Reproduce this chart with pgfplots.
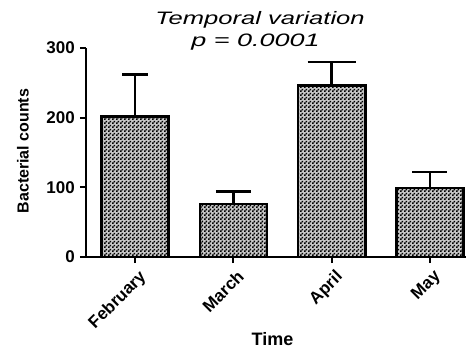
\documentclass[border=0pt]{standalone}
\usepackage{pgfplots}
\pgfplotsset{compat=1.18}
\usepackage{fontspec}
\setmainfont{Liberation Sans}
\usetikzlibrary{patterns}
\pgfdeclarepatternformonly{finechecker}{\pgfpointorigin}{\pgfqpoint{4pt}{4pt}}{\pgfqpoint{4pt}{4pt}}{%
  \pgfpathrectangle{\pgfpointorigin}{\pgfqpoint{2pt}{2pt}}%
  \pgfpathrectangle{\pgfqpoint{2pt}{2pt}}{\pgfqpoint{2pt}{2pt}}%
  \pgfusepath{fill}}
\pgfplotsset{
  mybar/.style={bar shift=0pt, draw=black, line width=2.5pt, fill=black!22,
    postaction={pattern=finechecker, pattern color=black},
    error bars/.cd, y dir=plus, y explicit,
    error bar style={line width=2.5pt, black}},
}
\begin{document}
\begin{tikzpicture}
\path[use as bounding box] (-86pt,-94pt) rectangle (382pt,257pt);
\begin{axis}[
  scale only axis,
  width=380pt, height=209pt,
  xmin=-0.5, xmax=3.367,
  ymin=0, ymax=300,
  axis x line=bottom, axis y line=left,
  axis line style={-, line width=2.2pt, black},
  every outer x axis line/.append style={-},
  every outer y axis line/.append style={-},
  xtick={0,1,2,3},
  xticklabels={February,March,April,May},
  ytick={0,100,200,300},
  tick align=outside,
  major tick length=6pt,
  tick style={line width=2pt, black},
  /pgf/number format/assume math mode=true,
  xticklabel style={font=\fontsize{17}{20}\selectfont\bfseries, rotate=45, anchor=north east, inner sep=2pt, yshift=-4pt},
  yticklabel style={font=\fontsize{17}{20}\selectfont\bfseries, inner sep=5pt},
  ybar,
  bar width=0.684,
  clip=false,
]
\addplot[mybar, error mark options={rotate=90, line width=2.5pt, black, mark size=13pt}]
  coordinates {(0,202) +- (0,60)};
\addplot[mybar, error mark options={rotate=90, line width=2.5pt, black, mark size=17.5pt}]
  coordinates {(1,76) +- (0,18)};
\addplot[mybar, error mark options={rotate=90, line width=2.5pt, black, mark size=24pt}]
  coordinates {(2,246) +- (0,34)};
\addplot[mybar, error mark options={rotate=90, line width=2.5pt, black, mark size=17.5pt}]
  coordinates {(3,99) +- (0,23)};
\end{axis}
\node[anchor=base, inner sep=0pt, font=\fontsize{18}{21}\selectfont\itshape] at (174pt,232pt) {\scalebox{1.42}[1]{Temporal variation}};
\node[anchor=base, inner sep=0pt, font=\fontsize{18}{21}\selectfont\itshape] at (169.5pt,210pt) {\scalebox{1.5}[1]{p = 0.0001}};
\node[rotate=90, inner sep=0pt, font=\fontsize{16}{19}\selectfont\bfseries] at (-63pt,106pt) {Bacterial counts};
\node[anchor=base, inner sep=0pt, font=\fontsize{18}{21}\selectfont\bfseries] at (186.5pt,-88pt) {Time};
\end{tikzpicture}
\end{document}
